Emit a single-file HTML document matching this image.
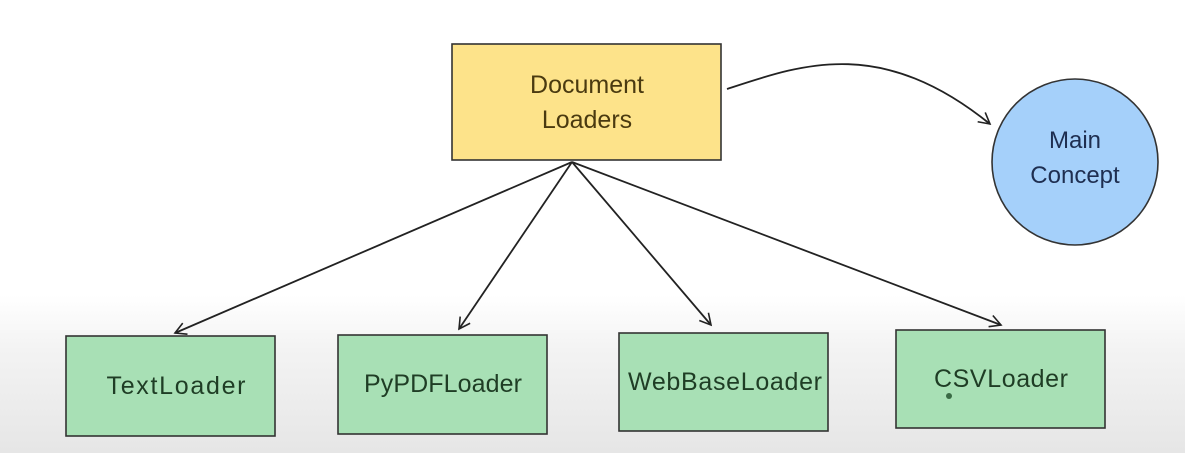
<!DOCTYPE html>
<html><head><style>
body{margin:0;width:1185px;height:453px;overflow:hidden;background:linear-gradient(to bottom,#fff 0,#fff 295px,#f3f3f3 350px,#e6e6e6 453px);font-family:"Liberation Sans",sans-serif;}
</style></head><body>
<svg width="1185" height="453" style="position:absolute;left:0;top:0">
<defs><marker id="a" markerWidth="14" markerHeight="14" refX="12" refY="7" orient="auto" markerUnits="userSpaceOnUse"><path d="M1,1 L12,7 L1,13" fill="none" stroke="#222" stroke-width="1.6"/></marker></defs>
<rect x="452" y="44" width="269" height="116" fill="#fde38a" stroke="#333" stroke-width="1.6"/>
<text x="587" y="93" text-anchor="middle" font-size="25" fill="#4a3a10">Document</text>
<text x="587" y="128" text-anchor="middle" font-size="25" fill="#4a3a10">Loaders</text>
<circle cx="1075" cy="162" r="83" fill="#a5d0fa" stroke="#333" stroke-width="1.6"/>
<text x="1075" y="148" text-anchor="middle" font-size="24" fill="#1e2e50">Main</text>
<text x="1075" y="183" text-anchor="middle" font-size="24" fill="#1e2e50">Concept</text>
<g fill="#a8e0b5" stroke="#333" stroke-width="1.6">
<rect x="66" y="336" width="209" height="100"/>
<rect x="338" y="335" width="209" height="99"/>
<rect x="619" y="333" width="209" height="98"/>
<rect x="896" y="330" width="209" height="98"/>
</g>
<g font-size="25" fill="#1f3d25" text-anchor="middle">
<text x="176" y="394" textLength="139">TextLoader</text>
<text x="443" y="392" textLength="158">PyPDFLoader</text>
<text x="725" y="390" textLength="194">WebBaseLoader</text>
<text x="1001" y="387" textLength="134">CSVLoader</text>
</g>
<circle cx="949" cy="396" r="3" fill="#3a6a45"/>
<g stroke="#222" stroke-width="1.8" fill="none" marker-end="url(#a)">
<line x1="572" y1="162" x2="175" y2="333"/>
<line x1="572" y1="162" x2="459" y2="329"/>
<line x1="572" y1="162" x2="711" y2="325"/>
<line x1="572" y1="162" x2="1001" y2="325"/>
<path d="M727,89 C800,65 880,35 990,124"/>
</g>
</svg>
</body></html>
